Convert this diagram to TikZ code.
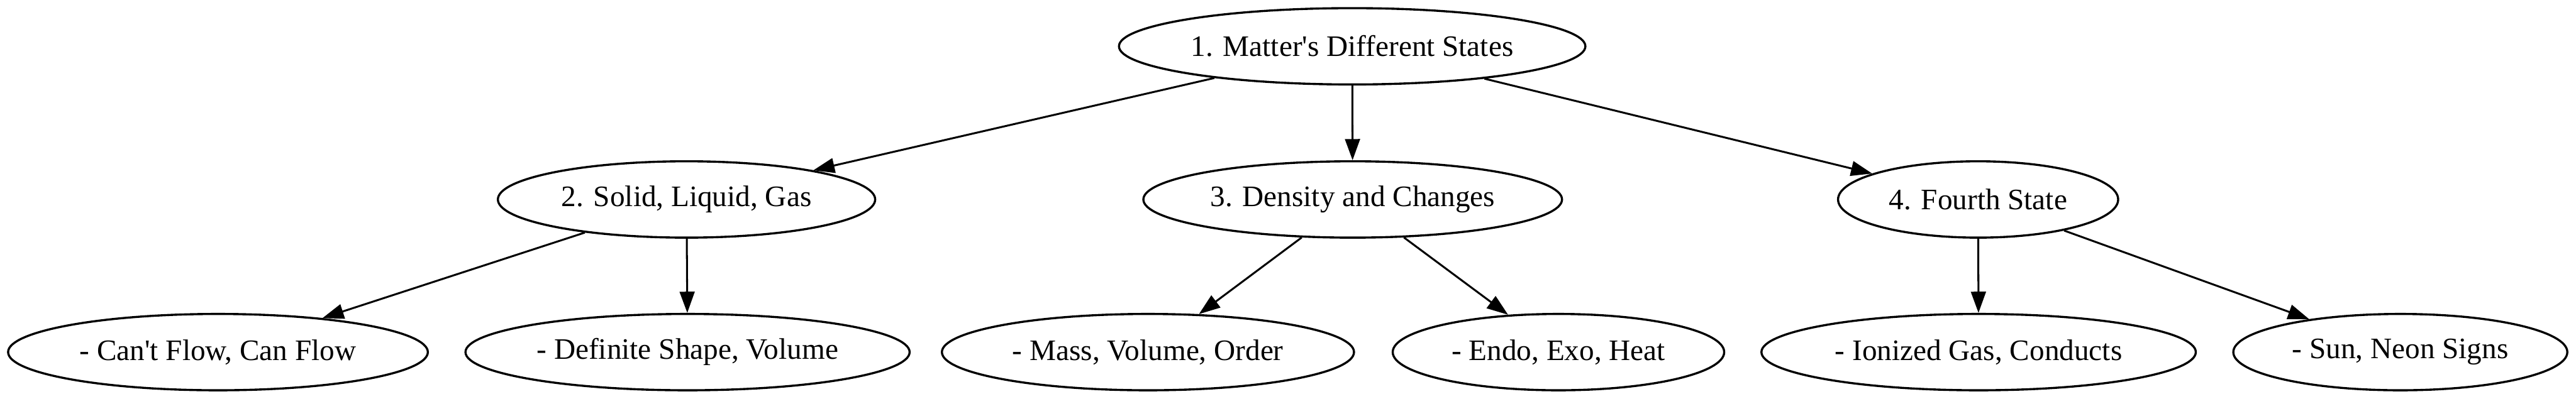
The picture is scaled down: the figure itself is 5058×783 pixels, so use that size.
\documentclass[tikz,border=0pt]{standalone}
\usepackage{fontspec}
\setmainfont{Liberation Serif}
\usetikzlibrary{shapes.geometric,arrows.meta}
\begin{document}
\begin{tikzpicture}[x=0.24pt,y=-0.24pt,
  state/.style={draw,ellipse,line width=1pt,minimum height=36pt,inner sep=0pt,
    font=\fontsize{14pt}{16pt}\selectfont},
  link/.style={draw,line width=0.9pt,-{Triangle[length=10pt,width=7pt]}}]
\useasboundingbox (0,0) rectangle (5058,783);
\node[state,minimum width=219.8pt] (matter) at (2655,91) {1. Matter\textquotesingle s Different States};

\node[state,minimum width=177.8pt] (phases) at (1348,392) {2. Solid, Liquid, Gas};
\node[state,minimum width=197.3pt] (density) at (2656,392) {3. Density and Changes};
\node[state,minimum width=132pt] (fourth) at (3884,392) {4. Fourth State};

\node[state,minimum width=197.8pt] (flow) at (428,692) {- Can\textquotesingle t Flow, Can Flow};
\node[state,minimum width=209.3pt] (shape) at (1350,692) {- Definite Shape, Volume};
\node[state,minimum width=194.2pt] (mass) at (2254,692) {- Mass, Volume, Order};
\node[state,minimum width=156.2pt] (heat) at (3060,692) {- Endo, Exo, Heat};
\node[state,minimum width=204.7pt] (ionized) at (3885,692) {- Ionized Gas, Conducts};
\node[state,minimum width=157.4pt] (neon) at (4713,692) {- Sun, Neon Signs};

\draw[link] (matter) -- (phases);
\draw[link] (matter) -- (density);
\draw[link] (matter) -- (fourth);
\draw[link] (phases) -- (flow);
\draw[link] (phases) -- (shape);
\draw[link] (density) -- (mass);
\draw[link] (density) -- (heat);
\draw[link] (fourth) -- (ionized);
\draw[link] (fourth) -- (neon);
\end{tikzpicture}
\end{document}
